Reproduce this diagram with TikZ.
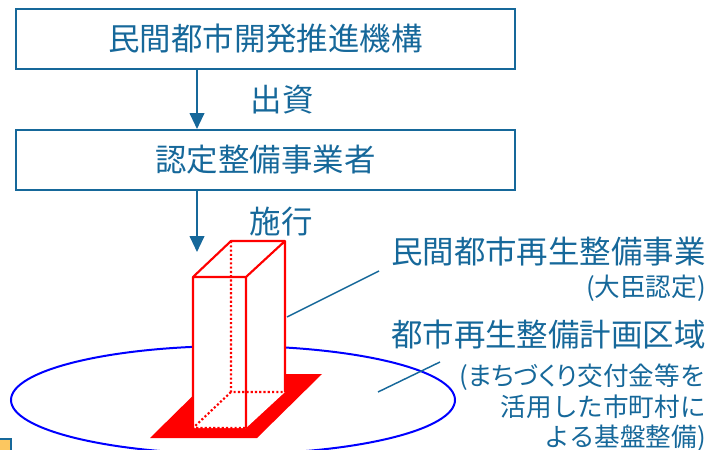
\documentclass[tikz,border=0pt]{standalone}
\usepackage{fontspec}
\setmainfont{Noto Sans CJK JP}
\usetikzlibrary{arrows.meta}
\definecolor{navy}{RGB}{22,104,154}
\definecolor{tan}{RGB}{252,199,96}
\newcommand\narrow[1]{{\addfontfeature{RawFeature=+palt}#1}}

\begin{document}
\begin{tikzpicture}[x=.75pt,y=-.75pt,
  box/.style={draw=navy,line width=1.5pt,minimum width=374pt,minimum height=45pt,inner sep=0pt,text=navy,font=\fontsize{23.6}{28}\selectfont},
  big/.style={inner sep=0pt,text=navy,font=\fontsize{23.6}{28}\selectfont},
  small/.style={inner sep=0pt,text=navy,font=\fontsize{19.2}{23}\selectfont},
  arr/.style={navy,line width=1.5pt,-{Triangle[length=12pt,width=11pt]}},
  lead/.style={navy,line width=1.1pt},
  edge/.style={red,line width=1.6pt,line join=round},
  hid/.style={red,line width=1.6pt,dash pattern=on 1.6pt off 1.6pt}]
\useasboundingbox(0,0)rectangle(711,450);
\node[box](org)at(265.5,39){民間都市開発推進機構};
\node[box](dev)at(265.5,160){認定整備事業者};
\coordinate(ax)at(197,0);\coordinate(site)at(197,252);
\draw[arr](ax|-org.south)--(ax|-dev.north);
\draw[arr](ax|-dev.south)--(site);
\node[big](fund)at(282,100){出資};
\node[big](exec)at(281,222){施行};
\draw[blue,line width=1.5pt](233,400)ellipse[x radius=166.5pt,y radius=40.5pt];
\fill[red](150,438)--(257,438)--(322,374)--(215,374)--cycle;
\fill[white](193,428)--(193,277)--(231,241)--(285,241)--(285,392)--(246,428)--cycle;
\draw[hid](231,241)--(231,392)--(285,392)(231,392)--(193,428)--(246,428);
\draw[edge](193,428)--(193,277)--(231,241)--(285,241)--(285,392)(246,428)--(246,277)--(193,277)(246,277)--(285,241);
\node[big,anchor=east](proj)at(706,252){民間都市再生整備事業};
\node[small,anchor=east](nin)at(706,288){(大臣認定)};
\node[big,anchor=east](area)at(706,335){都市再生整備計画区域};
\node[small,anchor=east,align=right](note)at(706,408){\narrow{(まちづくり}交付金等を\\活用した市町村に\\よる基盤整備)};
\coordinate(b1)at(287,317);\coordinate(p1)at(379,271);
\coordinate(b2)at(378,392);\coordinate(p2)at(440,362);
\draw[lead](b1)--(p1);\draw[lead](b2)--(p2);
\draw[navy,line width=1.5pt,fill=tan](-2,439)rectangle(11,456);
\end{tikzpicture}
\end{document}
